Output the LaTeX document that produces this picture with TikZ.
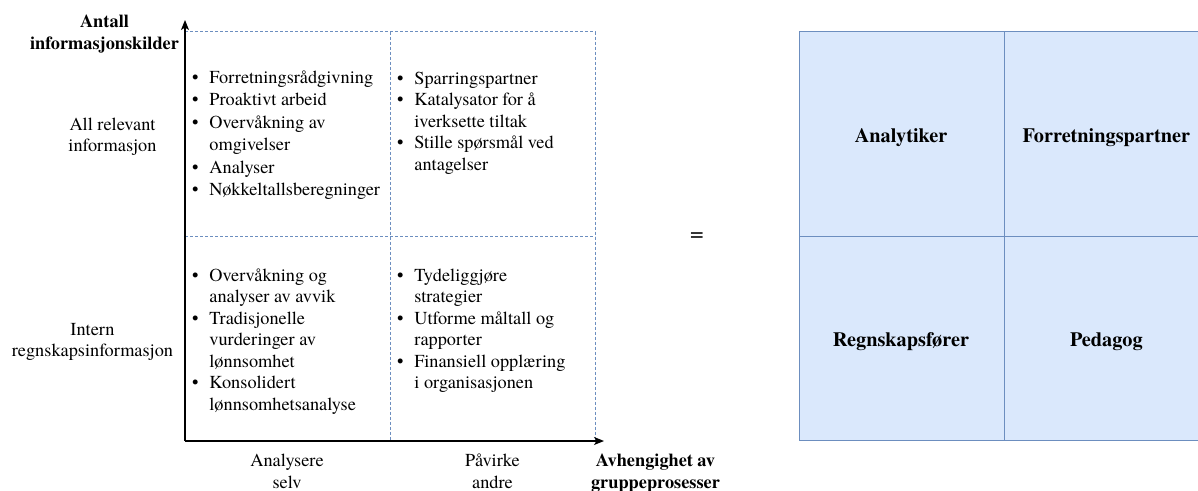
\documentclass[tikz,border=0pt]{standalone}
\usepackage{fontspec}
\setmainfont{texgyretermes-regular.otf}[BoldFont=texgyretermes-bold.otf]
\usetikzlibrary{arrows.meta}
\definecolor{cellfill}{HTML}{DAE8FC}
\definecolor{cellline}{HTML}{6C8EBF}
\newcommand{\mylines}[1]{\begin{tabular}[t]{@{}c@{}}#1\end{tabular}}
\newcommand{\mylist}[1]{\begin{tabular}[t]{@{}l@{\hspace{11pt}}l@{}}#1\end{tabular}}
\newcommand{\bu}{\textbullet}
\begin{document}
\begin{tikzpicture}[x=1pt,y=-1pt,
  txt/.style={inner sep=0pt, outer sep=0pt, anchor=base, font=\fontsize{18.3}{21.5}\selectfont},
  btxt/.style={txt, font=\fontsize{18.3}{21.5}\selectfont\bfseries},
  rtxt/.style={txt, font=\fontsize{20.3}{24}\selectfont\bfseries},
  listbox/.style={inner sep=0pt, outer sep=0pt, anchor=base west, font=\fontsize{18.3}{21.5}\selectfont},
  axis/.style={line width=1.2pt, -{Stealth[length=10pt,width=8pt,inset=2.5pt]}},
  grid/.style={draw=cellline, line width=0.8pt, dash pattern=on 3pt off 2pt},
  cell/.style={draw=cellline, fill=cellfill, line width=1pt, minimum width=204.7pt, minimum height=204.5pt, inner sep=0pt, outer sep=0pt}
]
\clip (0,0) rectangle (1198,490);
\fill[white] (0,0) rectangle (1198,490);

% coordinates of the matrix
\coordinate (O) at (185,441);
\coordinate (ytip) at (185,20);
\coordinate (xtip) at (604,441);
\coordinate (tl) at (185,31.7);
\coordinate (tm) at (390,31.7);
\coordinate (tr) at (595,31.7);
\coordinate (ml) at (185,236);
\coordinate (mr) at (595,236);
\coordinate (bm) at (390,441);
\coordinate (br) at (595,441);

% dashed grid
\draw[grid] (tl) -- (tr) -- (br);
\draw[grid] (tm) -- (bm);
\draw[grid] (ml) -- (mr);

% axes
\draw[axis] (O) -- (ytip);
\draw[axis] (O) -- (xtip);

% axis titles
\node[btxt] (ytitle) at (104.5,27.5) {\mylines{Antall\\informasjonskilder}};
\node[btxt] (xtitle) at (655.5,466.5) {\mylines{Avhengighet av\\gruppeprosesser}};

% axis labels
\node[txt] (yhigh) at (112.5,130) {\mylines{All relevant\\informasjon}};
\node[txt] (ylow) at (92.5,335) {\mylines{Intern\\regnskapsinformasjon}};
\node[txt] (xleft) at (287,466.5) {\mylines{Analysere\\selv}};
\node[txt] (xright) at (492.5,466.5) {\mylines{Påvirke\\andre}};

% quadrant contents
\node[listbox, font=\fontsize{18.3}{22.4}\selectfont] (q1) at (192,83.5) {\mylist{%
\bu & Forretningsrådgivning\\
\bu & Proaktivt arbeid\\
\bu & Overvåkning av\\
    & omgivelser\\
\bu & Analyser\\
\bu & Nøkkeltallsberegninger}};
\node[listbox] (q2) at (397,84) {\mylist{%
\bu & Sparringspartner\\
\bu & Katalysator for å\\
    & iverksette tiltak\\
\bu & Stille spørsmål ved\\
    & antagelser}};
\node[listbox] (q3) at (192,281) {\mylist{%
\bu & Overvåkning og\\
    & analyser av avvik\\
\bu & Tradisjonelle\\
    & vurderinger av\\
    & lønnsomhet\\
\bu & Konsolidert\\
    & lønnsomhetsanalyse}};
\node[listbox] (q4) at (397,281) {\mylist{%
\bu & Tydeliggjøre\\
    & strategier\\
\bu & Utforme måltall og\\
    & rapporter\\
\bu & Finansiell opplæring\\
    & i organisasjonen}};

% equals sign
\node[txt, anchor=center, font=\fontsize{24}{28}\selectfont] (eq) at (697,236.7) {=};

% role matrix
\node[cell] (c11) at (901.65,133.95) {};
\node[cell] (c12) at (1106.35,133.95) {};
\node[cell] (c21) at (901.65,338.45) {};
\node[cell] (c22) at (1106.35,338.45) {};
\node[rtxt] (r11) at (901,142.5) {Analytiker};
\node[rtxt] (r12) at (1106.35,142.5) {Forretningspartner};
\node[rtxt] (r21) at (901,346.5) {Regnskapsfører};
\node[rtxt] (r22) at (1106.35,346.5) {Pedagog};
\end{tikzpicture}
\end{document}
